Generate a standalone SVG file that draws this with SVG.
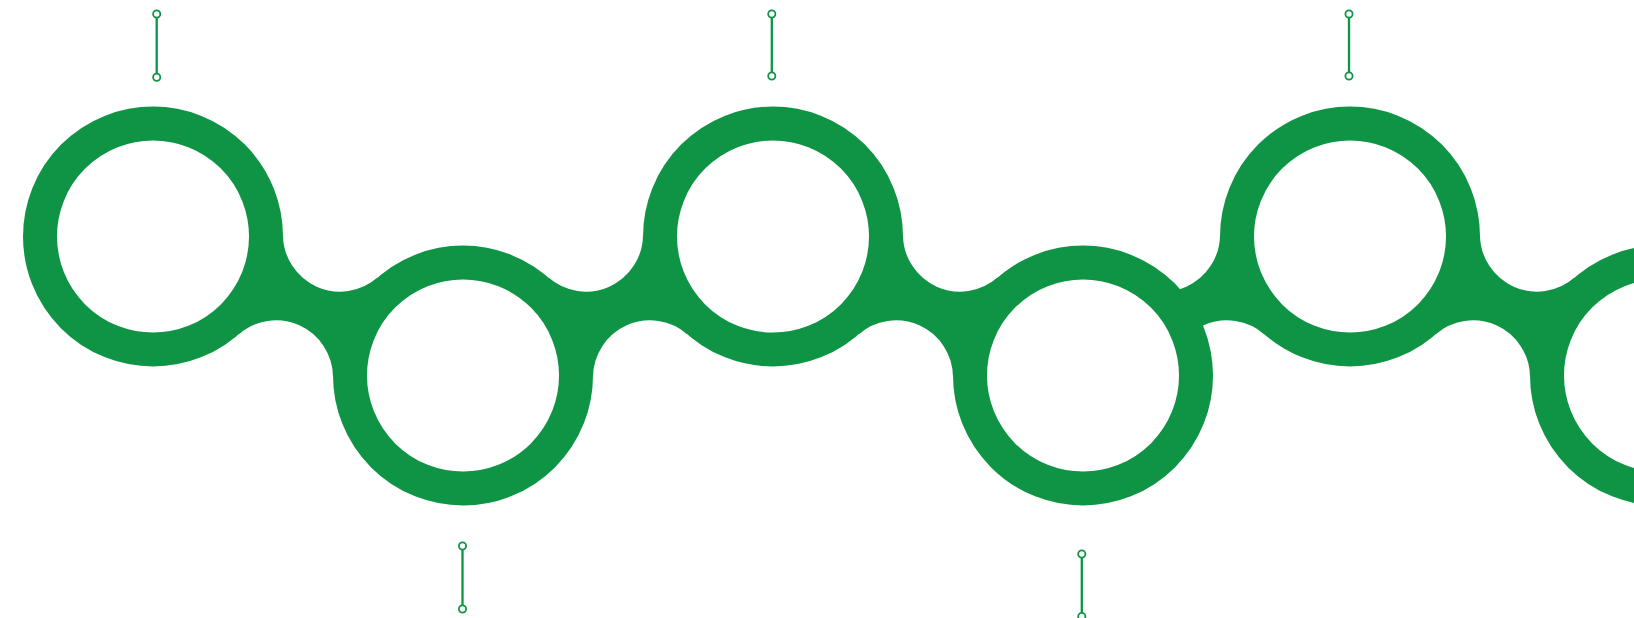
<svg xmlns="http://www.w3.org/2000/svg" width="1634" height="618" viewBox="0 0 1634 618">
<style>
.neck{fill:#0f9445;stroke:none}
.ring{fill:#ffffff;stroke:#0f9445;stroke-width:34}
.pin-line{stroke:#0f9445;stroke-width:2.3;fill:none}
.pin-dot{fill:#ffffff;stroke:#0f9445;stroke-width:1.8}
</style>
<rect width="1634" height="618" fill="#ffffff"/>
<g id="connectors">
<path class="neck" d="M283 235.2 A57 57 0 0 0 377.5 277.55 L333 376.8 A57 57 0 0 0 238.5 334.45 Z"/>
<path class="neck" d="M643 235.2 A57 57 0 0 1 548.5 277.55 L593 376.8 A57 57 0 0 1 687.5 334.45 Z"/>
<path class="neck" d="M903 235.2 A57 57 0 0 0 997.5 277.55 L953 376.8 A57 57 0 0 0 858.5 334.45 Z"/>
<path class="neck" d="M1220 235.2 A57 57 0 0 1 1125.5 277.55 L1170 376.8 A57 57 0 0 1 1264.5 334.45 Z"/>
<path class="neck" d="M1480 235.2 A57 57 0 0 0 1574.5 277.55 L1530 376.8 A57 57 0 0 0 1435.5 334.45 Z"/>
</g>
<g id="node1">
<circle class="ring" cx="153" cy="236.5" r="113"/>
<line class="pin-line" x1="156.7" y1="17.6" x2="156.7" y2="73.7"/>
<circle class="pin-dot" cx="156.7" cy="14" r="3.6"/>
<circle class="pin-dot" cx="156.7" cy="77.3" r="3.6"/>
</g>
<g id="node2">
<circle class="ring" cx="463" cy="375.5" r="113"/>
<line class="pin-line" x1="462.5" y1="549.6" x2="462.5" y2="605.4"/>
<circle class="pin-dot" cx="462.5" cy="546" r="3.6"/>
<circle class="pin-dot" cx="462.5" cy="609" r="3.6"/>
</g>
<g id="node3">
<circle class="ring" cx="773" cy="236.5" r="113"/>
<line class="pin-line" x1="771.8" y1="17.6" x2="771.8" y2="72.6"/>
<circle class="pin-dot" cx="771.8" cy="14" r="3.6"/>
<circle class="pin-dot" cx="771.8" cy="76" r="3.6"/>
</g>
<g id="node4">
<circle class="ring" cx="1083" cy="375.5" r="113"/>
<line class="pin-line" x1="1081.8" y1="557.6" x2="1081.8" y2="612.6"/>
<circle class="pin-dot" cx="1081.8" cy="554" r="3.6"/>
<circle class="pin-dot" cx="1081.8" cy="616.5" r="3.6"/>
</g>
<g id="node5">
<circle class="ring" cx="1350" cy="236.5" r="113"/>
<line class="pin-line" x1="1349" y1="17.6" x2="1349" y2="72.6"/>
<circle class="pin-dot" cx="1349" cy="14" r="3.6"/>
<circle class="pin-dot" cx="1349" cy="76" r="3.6"/>
</g>
<g id="node6">
<circle class="ring" cx="1660" cy="375.5" r="113"/>
</g>
</svg>
